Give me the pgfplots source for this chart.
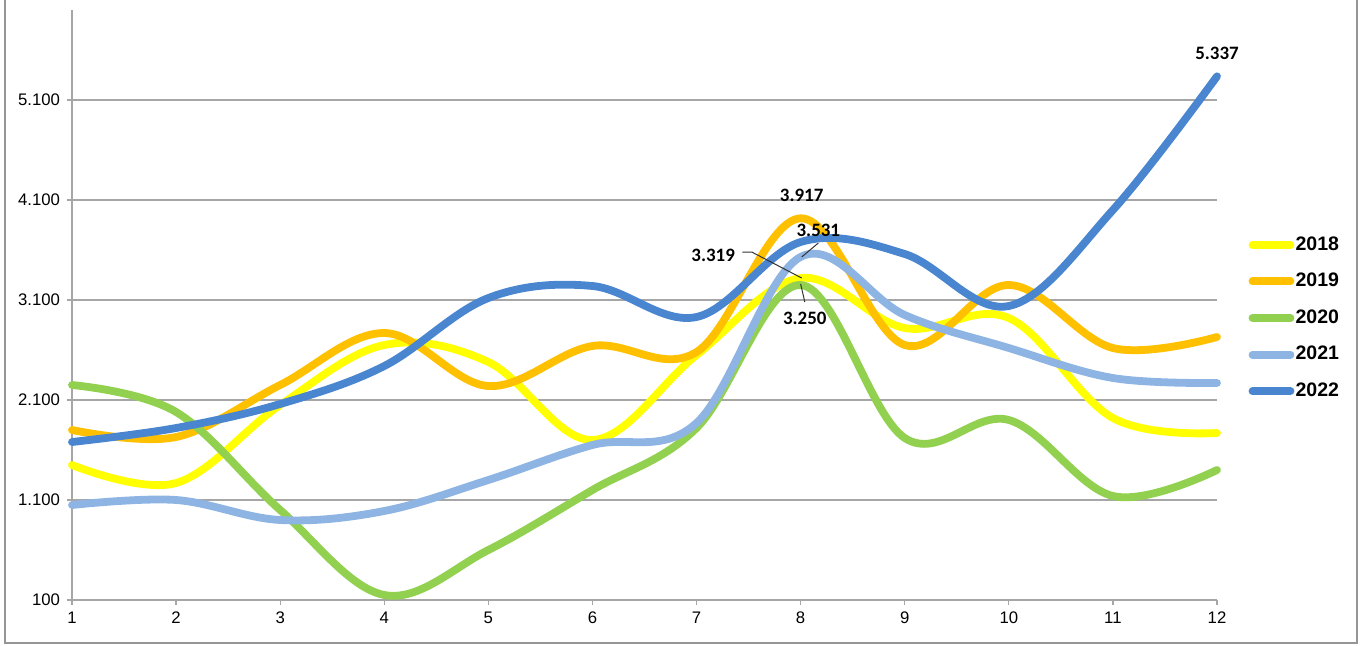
\documentclass[border=0pt]{standalone}
\usepackage{pgfplots}
\pgfplotsset{compat=1.18}
\usepackage{fontspec}
\setmainfont{Liberation Sans}
\newfontfamily\lblfont{Carlito}

\definecolor{c2018}{HTML}{FFFF00}
\definecolor{c2019}{HTML}{FFC000}
\definecolor{c2020}{HTML}{92D050}
\definecolor{c2021}{HTML}{8EB4E3}
\definecolor{c2022}{HTML}{4A86D0}
\definecolor{gridc}{HTML}{A6A6A6}

\begin{document}
\begin{tikzpicture}
\useasboundingbox (0,0) rectangle (682bp,323bp);
% frame (top edge cut off in the reference)
\draw[gridc!90!black, line width=1.2bp] (2.5bp,330bp) -- (2.5bp,1.5bp) -- (678.5bp,1.5bp) -- (678.5bp,330bp);
\begin{axis}[
  at={(36bp,23bp)}, anchor=south west,
  scale only axis, width=572.5bp, height=295bp,
  xmin=1, xmax=12, ymin=100, ymax=6000,
  xtick={1,...,12},
  ytick={100,1100,2100,3100,4100,5100},
  yticklabels={100,1.100,2.100,3.100,4.100,5.100},
  /pgf/number format/assume math mode=true,
  ticklabel style={font=\fontsize{8.4}{9}\selectfont},
  tick align=outside, major tick length=2.5bp,
  tick style={gridc, line width=0.6bp},
  axis x line*=bottom, axis y line*=left,
  axis line style={gridc, line width=0.8bp, -},
  ymajorgrids, grid style={gridc, line width=0.6bp},
  clip=false,
  every axis plot/.append style={line width=3.9bp, smooth, tension=0.6, line cap=round},
  legend style={at={(1.022,0.478)}, anchor=west, draw=none, fill=none,
    font=\fontsize{9.8}{11}\selectfont\bfseries, row sep=8bp,
    nodes={inner xsep=0.6bp, inner ysep=1bp}},
  legend cell align=left,
  legend image code/.code={\draw[#1, line width=3.9bp, line cap=round] (0bp,0bp) -- (19bp,0bp);},
]
\addplot[c2018] coordinates {(1,1450) (2,1270) (3,2050) (4,2650) (5,2480) (6,1700) (7,2550) (8,3319) (9,2820) (10,2920) (11,1920) (12,1770)};
\addlegendentry{2018}
\addplot[c2019] coordinates {(1,1800) (2,1730) (3,2250) (4,2770) (5,2240) (6,2640) (7,2580) (8,3917) (9,2650) (10,3250) (11,2620) (12,2730)};
\addlegendentry{2019}
\addplot[c2020] coordinates {(1,2250) (2,1980) (3,1000) (4,150) (5,600) (6,1200) (7,1820) (8,3250) (9,1720) (10,1900) (11,1140) (12,1400)};
\addlegendentry{2020}
\addplot[c2021] coordinates {(1,1050) (2,1100) (3,900) (4,990) (5,1300) (6,1650) (7,1870) (8,3531) (9,2950) (10,2620) (11,2320) (12,2270)};
\addlegendentry{2021}
\addplot[c2022] coordinates {(1,1680) (2,1820) (3,2060) (4,2440) (5,3120) (6,3240) (7,2930) (8,3680) (9,3560) (10,3040) (11,4000) (12,5337)};
\addlegendentry{2022}

% data labels
\begin{scope}[every node/.style={font=\lblfont\fontsize{9.5}{10}\selectfont\bfseries, inner sep=0pt}]
\node at (axis cs:12,5570) {5.337};
\node at (axis cs:8.01,4150) {3.917};
\node at (axis cs:8.17,3800) {3.531};
\node at (axis cs:7.16,3550) {3.319};
\node at (axis cs:8.04,2920) {3.250};
\end{scope}
\draw[black!80, line width=0.5bp] (axis cs:8.17,3670) -- (axis cs:8.01,3530);
\draw[black!80, line width=0.5bp] (axis cs:7.44,3580) -- (axis cs:7.53,3580) -- (axis cs:8.01,3320);
\draw[black!80, line width=0.5bp] (axis cs:8.0,3260) -- (axis cs:8.04,3080);
\end{axis}
\end{tikzpicture}
\end{document}
